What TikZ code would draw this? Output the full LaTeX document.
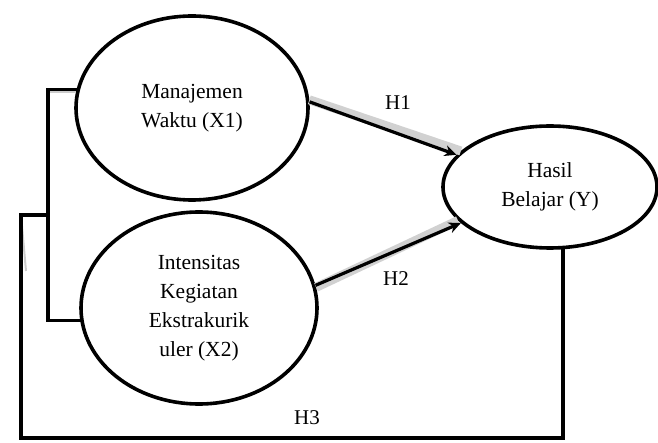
\documentclass[tikz,border=0pt]{standalone}
\usepackage{fontspec}
\setmainfont{Liberation Serif}
\usetikzlibrary{shapes.geometric,arrows.meta}

\tikzset{
  var/.style={ellipse, draw=black, line width=3.6pt, inner sep=0pt, align=center,
    font=\fontsize{21.5}{29}\selectfont},
  link/.style={draw=black, line width=3.6pt, line cap=rect},
  path shade/.style={draw=black!18, line width=9pt},
  effect/.style={draw=black, line width=3.2pt, -{Stealth[length=12pt,width=11pt]}},
  hyp/.style={font=\fontsize{21}{24}\selectfont, inner sep=0pt}
}

\begin{document}
\begin{tikzpicture}[x=1pt, y=-1pt]
  \useasboundingbox (0,0) rectangle (658,443);
  \fill[white] (0,0) rectangle (658,443);

  % latent variables
  \node[var, minimum width=232pt, minimum height=184pt] (x1) at (192,108)
    {Manajemen\\Waktu (X1)};
  \node[var, minimum width=236pt, minimum height=192pt] (x2) at (199,308)
    {Intensitas\\Kegiatan\\Ekstrakurik\\uler (X2)};
  \node[var, minimum width=214pt, minimum height=122pt] (y) at (550,187)
    {Hasil\\Belajar (Y)};

  % corner points of the bracket and the outer H3 path
  \coordinate (jn) at (48,215);
  \coordinate (o1) at (21,215);
  \coordinate (o2) at (21,438);

  % soft shadows under the paths
  \begin{scope}[shift={(2,7)}]
    \draw[path shade] (x1.4) -- (y.158);
    \draw[path shade] (x2.10) -- (y.200);
  \end{scope}
  \begin{scope}[shift={(5,6)}]
    \draw[draw=black!20, line width=2pt] (x1.172) -| (jn);
    \draw[draw=black!20, line width=2pt] (o1) -- (21,265);
  \end{scope}

  % bracket joining X1 and X2, then the joint path to Y
  \draw[link] (x1.171) -| (jn) |- (x2.186);
  \draw[link] (jn) -- (o1) -- (o2) -| (y.282);

  % direct effects
  \draw[effect] (x1.3) -- (y.161);
  \draw[effect] (x2.11) -- (y.202);

  % hypothesis labels
  \node[hyp] (h1) at (398,103) {H1};
  \node[hyp] (h2) at (396,279) {H2};
  \node[hyp] (h3) at (307,418) {H3};
\end{tikzpicture}
\end{document}
